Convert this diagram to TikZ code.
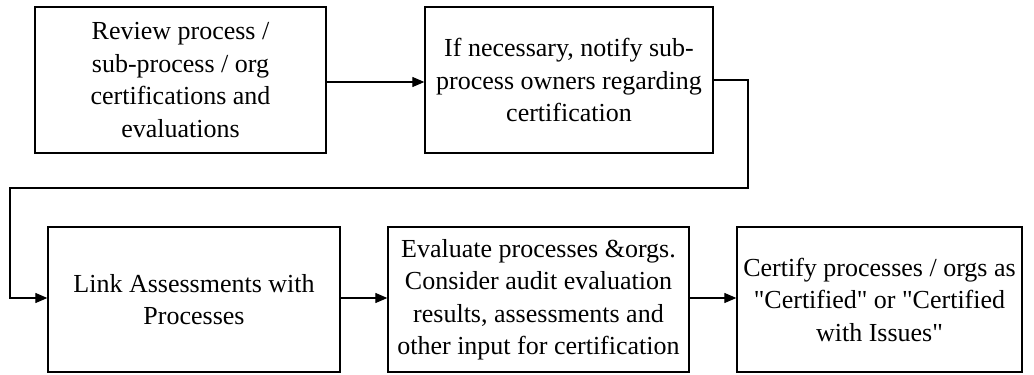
\documentclass[tikz,border=0pt]{standalone}
\usepackage{fontspec}
\setmainfont{Liberation Serif}
\usetikzlibrary{arrows.meta}
\begin{document}
\begin{tikzpicture}[x=1pt,y=-1pt,
  stepbox/.style={draw, line width=1.3pt, inner sep=0pt, align=center,
    font=\fontsize{26}{32.5}\selectfont},
  flow/.style={line width=1.2pt, -{Triangle[length=12pt,width=10pt]}}]
  \useasboundingbox (0,0) rectangle (1034,375);
  % top row
  \node[stepbox, minimum width=291pt, minimum height=146pt] (review) at (180.5,80)
    {Review process /\\ sub-process / org\\ certifications and\\ evaluations};
  \node[stepbox, minimum width=288pt, minimum height=146pt] (notify) at (569,80)
    {If necessary, notify sub-\\ process owners regarding\\ certification};
  % bottom row
  \node[stepbox, minimum width=292pt, minimum height=145pt] (link) at (194,299.5)
    {Link Assessments with\\ Processes};
  \node[stepbox, minimum width=301pt, minimum height=145pt] (evaluate) at (538.5,299.5)
    {Evaluate processes \&orgs.\\ Consider audit evaluation\\ results, assessments and\\ other input for certification};
  \node[stepbox, minimum width=285pt, minimum height=145pt] (certify) at (879.5,299.5)
    {Certify processes / orgs as\\ \textquotedbl Certified\textquotedbl{} or \textquotedbl Certified\\ with Issues\textquotedbl};
  \coordinate (turnA) at (748,80);
  \coordinate (turnB) at (748,188);
  \coordinate (turnC) at (10,188);
  \coordinate (turnD) at (10,298);
  % connectors
  \draw[flow] (review.east |- 0,82) -- (notify.west |- 0,82);
  \draw[flow] (notify.east |- turnA) -- (turnA) -- (turnB) -- (turnC) -- (turnD) -- (link.west |- turnD);
  \draw[flow] (link.east |- 0,298) -- (evaluate.west |- 0,298);
  \draw[flow] (evaluate.east |- 0,298) -- (certify.west |- 0,298);
\end{tikzpicture}
\end{document}
